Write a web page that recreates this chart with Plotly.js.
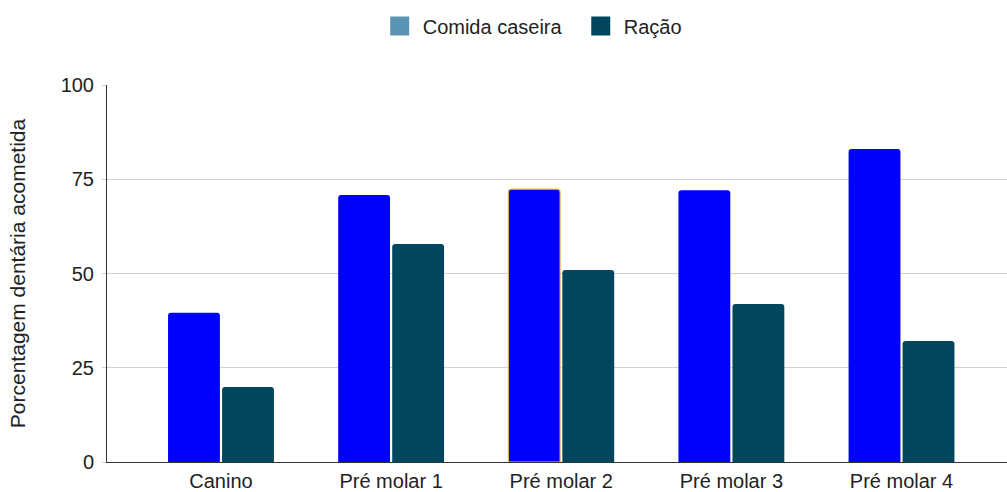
<!DOCTYPE html>
<html>
<head>
<meta charset="utf-8">
<script src="https://cdn.plot.ly/plotly-3.0.1.min.js"></script>
<style>html,body{margin:0;padding:0;background:#fff;}#chart{width:1007px;height:492px;}</style>
</head>
<body>
<div id="chart"></div>
<script>
const categories = ["Canino", "Pré molar 1", "Pré molar 2", "Pré molar 3", "Pré molar 4"];
const comidaCaseira = [39.6, 70.8, 72.4, 72.1, 83.0];
const racao = [19.9, 57.8, 50.9, 41.9, 32.1];
const seriesNames = ["Comida caseira", "Ração"];
const yTitle = "Porcentagem dentária acometida";

const FONT = "Liberation Sans, Arial, sans-serif";
const FS = 20;

function legendProxy(name, color) {
  return {
    type: "scatter", mode: "markers", name: name,
    x: [categories[0]], y: [null], xaxis: "x2", yaxis: "y2",
    marker: {symbol: "square", size: 16, color: color, line: {color: color, width: 3}},
    showlegend: true, hoverinfo: "skip"
  };
}

const data = [
  legendProxy(seriesNames[0] + "\u00a0\u00a0", "#5a93b3"),
  legendProxy(seriesNames[1], "#01465f"),
  {
    type: "bar", name: seriesNames[0], x: categories, y: comidaCaseira,
    marker: {
      color: "#0000ff",
      line: {color: ["rgba(0,0,0,0)","rgba(0,0,0,0)","#f2c24a","rgba(0,0,0,0)","rgba(0,0,0,0)"], width: [0,0,1.2,0,0]}
    },
    showlegend: false
  },
  {
    type: "bar", name: seriesNames[1], x: categories, y: racao,
    marker: {color: "#01465f"}, showlegend: false
  }
];

const layout = {
  width: 1007, height: 492,
  margin: {l: 107, r: 0, t: 85, b: 30},
  paper_bgcolor: "#ffffff", plot_bgcolor: "#ffffff",
  font: {family: FONT, size: FS, color: "#222222"},
  barmode: "group", bargap: 0.365, bargroupgap: 0.04,
  barcornerradius: 3,
  showlegend: true,
  legend: {
    orientation: "h", xref: "container", yref: "container",
    x: 0.528, xanchor: "center", y: 0.947, yanchor: "middle",
    font: {family: FONT, size: FS, color: "#222222"},
    traceorder: "normal", itemclick: false, itemwidth: 36
  },
  xaxis: {
    range: [-0.67, 4.62], showgrid: false, showline: true, linecolor: "#333333", linewidth: 1,
    ticks: "", ticklabelstandoff: 1, tickfont: {family: FONT, size: FS, color: "#222222"}, fixedrange: true
  },
  yaxis: {
    range: [0, 100], tickvals: [0, 25, 50, 75, 100],
    showgrid: true, gridcolor: "#d0d0d0", gridwidth: 1,
    showline: true, linecolor: "#333333", linewidth: 1,
    ticks: "outside", ticklen: 4, tickcolor: "#d0d0d0", ticklabelstandoff: 4,
    zeroline: false,
    tickfont: {family: FONT, size: FS, color: "#222222"},
    title: {text: yTitle + "\u00a0\u00a0\u00a0", font: {family: FONT, size: 21, color: "#222222"}, standoff: 29}
  },
  xaxis2: {overlaying: "x", visible: false, range: [-0.67, 4.62]},
  yaxis2: {overlaying: "y", visible: false, range: [0, 100]}
};

Plotly.newPlot("chart", data, layout, {displayModeBar: false, staticPlot: true});
</script>
</body>
</html>
